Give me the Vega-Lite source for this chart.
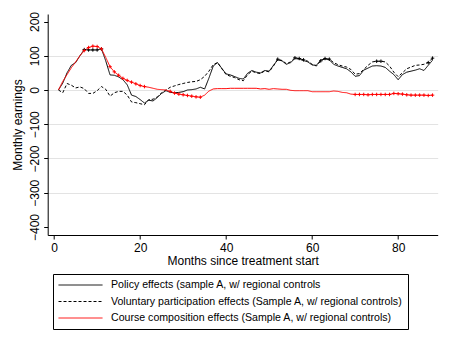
{
  "$schema": "https://vega.github.io/schema/vega-lite/v6.json",
  "width": 390,
  "height": 221,
  "autosize": {"type": "none"},
  "padding": {"left": 47.7, "top": 14, "right": 13.3, "bottom": 111},
  "background": "white",
  "data": {"values": [
    {"m":1,"s":"a","v":0},{"m":2,"s":"a","v":20},{"m":3,"s":"a","v":50},{"m":4,"s":"a","v":72},{"m":5,"s":"a","v":80},{"m":6,"s":"a","v":100},{"m":7,"s":"a","v":118,"k":1},{"m":8,"s":"a","v":117,"k":1},{"m":9,"s":"a","v":117,"k":1},{"m":10,"s":"a","v":117,"k":1},
    {"m":11,"s":"a","v":120,"k":1},{"m":12,"s":"a","v":85},{"m":13,"s":"a","v":44},{"m":14,"s":"a","v":43},{"m":15,"s":"a","v":38},{"m":16,"s":"a","v":30},{"m":17,"s":"a","v":15},{"m":18,"s":"a","v":-15},{"m":19,"s":"a","v":-19},{"m":20,"s":"a","v":-28},
    {"m":21,"s":"a","v":-38},{"m":22,"s":"a","v":-30},{"m":23,"s":"a","v":-32},{"m":24,"s":"a","v":-22},{"m":25,"s":"a","v":-10},{"m":26,"s":"a","v":-2},{"m":27,"s":"a","v":-7},{"m":28,"s":"a","v":-8},{"m":29,"s":"a","v":-7},{"m":30,"s":"a","v":-5},
    {"m":31,"s":"a","v":0},{"m":32,"s":"a","v":1},{"m":33,"s":"a","v":3},{"m":34,"s":"a","v":8},{"m":35,"s":"a","v":3},{"m":36,"s":"a","v":35},{"m":37,"s":"a","v":70},{"m":38,"s":"a","v":80},{"m":39,"s":"a","v":63},{"m":40,"s":"a","v":47},
    {"m":41,"s":"a","v":44},{"m":42,"s":"a","v":39},{"m":43,"s":"a","v":34},{"m":44,"s":"a","v":32},{"m":45,"s":"a","v":49},{"m":46,"s":"a","v":57},{"m":47,"s":"a","v":52},{"m":48,"s":"a","v":50},{"m":49,"s":"a","v":57},{"m":50,"s":"a","v":55},
    {"m":51,"s":"a","v":72},{"m":52,"s":"a","v":88},{"m":53,"s":"a","v":85},{"m":54,"s":"a","v":75},{"m":55,"s":"a","v":80},{"m":56,"s":"a","v":92},{"m":57,"s":"a","v":90},{"m":58,"s":"a","v":86},{"m":59,"s":"a","v":82},{"m":60,"s":"a","v":73},
    {"m":61,"s":"a","v":72},{"m":62,"s":"a","v":88},{"m":63,"s":"a","v":90},{"m":64,"s":"a","v":88},{"m":65,"s":"a","v":75},{"m":66,"s":"a","v":70},{"m":67,"s":"a","v":66},{"m":68,"s":"a","v":62},{"m":69,"s":"a","v":53},{"m":70,"s":"a","v":40},
    {"m":71,"s":"a","v":42},{"m":72,"s":"a","v":58},{"m":73,"s":"a","v":64},{"m":74,"s":"a","v":70},{"m":75,"s":"a","v":71},{"m":76,"s":"a","v":70},{"m":77,"s":"a","v":66},{"m":78,"s":"a","v":55},{"m":79,"s":"a","v":45},{"m":80,"s":"a","v":30},
    {"m":81,"s":"a","v":45},{"m":82,"s":"a","v":52},{"m":83,"s":"a","v":55},{"m":84,"s":"a","v":58},{"m":85,"s":"a","v":62},{"m":86,"s":"a","v":57},{"m":87,"s":"a","v":72},{"m":88,"s":"a","v":87},

    {"m":1,"s":"b","v":0},{"m":2,"s":"b","v":-8},{"m":3,"s":"b","v":19},{"m":4,"s":"b","v":14},{"m":5,"s":"b","v":6},{"m":6,"s":"b","v":9},{"m":7,"s":"b","v":4},{"m":8,"s":"b","v":-10},{"m":9,"s":"b","v":-10},{"m":10,"s":"b","v":-2},
    {"m":11,"s":"b","v":10},{"m":12,"s":"b","v":2},{"m":13,"s":"b","v":-18},{"m":14,"s":"b","v":-8},{"m":15,"s":"b","v":-4},{"m":16,"s":"b","v":-4},{"m":17,"s":"b","v":-15},{"m":18,"s":"b","v":-35},{"m":19,"s":"b","v":-37},{"m":20,"s":"b","v":-40},
    {"m":21,"s":"b","v":-43},{"m":22,"s":"b","v":-28},{"m":23,"s":"b","v":-27},{"m":24,"s":"b","v":-20},{"m":25,"s":"b","v":-8},{"m":26,"s":"b","v":0},{"m":27,"s":"b","v":8},{"m":28,"s":"b","v":12},{"m":29,"s":"b","v":16},{"m":30,"s":"b","v":19},
    {"m":31,"s":"b","v":22},{"m":32,"s":"b","v":24},{"m":33,"s":"b","v":25},{"m":34,"s":"b","v":30},{"m":35,"s":"b","v":40},{"m":36,"s":"b","v":55},{"m":37,"s":"b","v":74},{"m":38,"s":"b","v":80},{"m":39,"s":"b","v":62},{"m":40,"s":"b","v":45},
    {"m":41,"s":"b","v":40},{"m":42,"s":"b","v":36},{"m":43,"s":"b","v":30},{"m":44,"s":"b","v":27},{"m":45,"s":"b","v":45},{"m":46,"s":"b","v":55},{"m":47,"s":"b","v":50},{"m":48,"s":"b","v":48},{"m":49,"s":"b","v":56},{"m":50,"s":"b","v":53},
    {"m":51,"s":"b","v":70},{"m":52,"s":"b","v":90,"k":1},{"m":53,"s":"b","v":86},{"m":54,"s":"b","v":77},{"m":55,"s":"b","v":82},{"m":56,"s":"b","v":94,"k":1},{"m":57,"s":"b","v":92,"k":1},{"m":58,"s":"b","v":88,"k":1},{"m":59,"s":"b","v":84},{"m":60,"s":"b","v":75},
    {"m":61,"s":"b","v":70},{"m":62,"s":"b","v":85,"k":1},{"m":63,"s":"b","v":92,"k":1},{"m":64,"s":"b","v":90,"k":1},{"m":65,"s":"b","v":80},{"m":66,"s":"b","v":74},{"m":67,"s":"b","v":70},{"m":68,"s":"b","v":67},{"m":69,"s":"b","v":60},{"m":70,"s":"b","v":46},
    {"m":71,"s":"b","v":48},{"m":72,"s":"b","v":60},{"m":73,"s":"b","v":72},{"m":74,"s":"b","v":82},{"m":75,"s":"b","v":84,"k":1},{"m":76,"s":"b","v":84,"k":1},{"m":77,"s":"b","v":82},{"m":78,"s":"b","v":70},{"m":79,"s":"b","v":52},{"m":80,"s":"b","v":39},
    {"m":81,"s":"b","v":50},{"m":82,"s":"b","v":62},{"m":83,"s":"b","v":67},{"m":84,"s":"b","v":72},{"m":85,"s":"b","v":73},{"m":86,"s":"b","v":75},{"m":87,"s":"b","v":80,"k":1},{"m":88,"s":"b","v":93,"k":1},

    {"m":1,"s":"c","v":0},{"m":2,"s":"c","v":25},{"m":3,"s":"c","v":45},{"m":4,"s":"c","v":65},{"m":5,"s":"c","v":82},{"m":6,"s":"c","v":100},{"m":7,"s":"c","v":115,"k":1},{"m":8,"s":"c","v":124,"k":1},{"m":9,"s":"c","v":128,"k":1},{"m":10,"s":"c","v":127,"k":1},
    {"m":11,"s":"c","v":120,"k":1},{"m":12,"s":"c","v":95},{"m":13,"s":"c","v":68,"k":1},{"m":14,"s":"c","v":53,"k":1},{"m":15,"s":"c","v":43,"k":1},{"m":16,"s":"c","v":34,"k":1},{"m":17,"s":"c","v":28,"k":1},{"m":18,"s":"c","v":23,"k":1},{"m":19,"s":"c","v":18,"k":1},{"m":20,"s":"c","v":13,"k":1},
    {"m":21,"s":"c","v":10,"k":1},{"m":22,"s":"c","v":8},{"m":23,"s":"c","v":5},{"m":24,"s":"c","v":2},{"m":25,"s":"c","v":1},{"m":26,"s":"c","v":0},{"m":27,"s":"c","v":-4,"k":1},{"m":28,"s":"c","v":-9,"k":1},{"m":29,"s":"c","v":-12,"k":1},{"m":30,"s":"c","v":-14,"k":1},
    {"m":31,"s":"c","v":-16,"k":1},{"m":32,"s":"c","v":-18,"k":1},{"m":33,"s":"c","v":-20,"k":1},{"m":34,"s":"c","v":-21,"k":1},{"m":35,"s":"c","v":-15},{"m":36,"s":"c","v":-3},{"m":37,"s":"c","v":3},{"m":38,"s":"c","v":4},{"m":39,"s":"c","v":4},{"m":40,"s":"c","v":4},
    {"m":41,"s":"c","v":5},{"m":42,"s":"c","v":5},{"m":43,"s":"c","v":5},{"m":44,"s":"c","v":5},{"m":45,"s":"c","v":5},{"m":46,"s":"c","v":5},{"m":47,"s":"c","v":5},{"m":48,"s":"c","v":3},{"m":49,"s":"c","v":4},{"m":50,"s":"c","v":2},
    {"m":51,"s":"c","v":4},{"m":52,"s":"c","v":3},{"m":53,"s":"c","v":2},{"m":54,"s":"c","v":2},{"m":55,"s":"c","v":-1},{"m":56,"s":"c","v":-2},{"m":57,"s":"c","v":-2},{"m":58,"s":"c","v":-2},{"m":59,"s":"c","v":-2},{"m":60,"s":"c","v":-5},
    {"m":61,"s":"c","v":-5},{"m":62,"s":"c","v":-5},{"m":63,"s":"c","v":-5},{"m":64,"s":"c","v":-5},{"m":65,"s":"c","v":-3},{"m":66,"s":"c","v":-4},{"m":67,"s":"c","v":-7},{"m":68,"s":"c","v":-8},{"m":69,"s":"c","v":-12},{"m":70,"s":"c","v":-13,"k":1},
    {"m":71,"s":"c","v":-13,"k":1},{"m":72,"s":"c","v":-13,"k":1},{"m":73,"s":"c","v":-14,"k":1},{"m":74,"s":"c","v":-13,"k":1},{"m":75,"s":"c","v":-13,"k":1},{"m":76,"s":"c","v":-13,"k":1},{"m":77,"s":"c","v":-13,"k":1},{"m":78,"s":"c","v":-13,"k":1},{"m":79,"s":"c","v":-10,"k":1},{"m":80,"s":"c","v":-11,"k":1},
    {"m":81,"s":"c","v":-12,"k":1},{"m":82,"s":"c","v":-14,"k":1},{"m":83,"s":"c","v":-15,"k":1},{"m":84,"s":"c","v":-15,"k":1},{"m":85,"s":"c","v":-15,"k":1},{"m":86,"s":"c","v":-15,"k":1},{"m":87,"s":"c","v":-16,"k":1},{"m":88,"s":"c","v":-15,"k":1}
  ]},
  "encoding": {
    "x": {"field": "m", "type": "quantitative",
          "scale": {"domain": [-1.5, 89.2], "nice": false, "zero": false},
          "axis": {"title": "Months since treatment start", "values": [0, 20, 40, 60, 80], "grid": false, "labelPadding": 3, "titlePadding": 2, "labelAngle": 0, "labelOverlap": false}},
    "y": {"field": "v", "type": "quantitative",
          "scale": {"domain": [-423.4, 221.9], "nice": false, "zero": false},
          "axis": {"title": "Monthly earnings", "values": [-400, -300, -200, -100, 0, 100, 200],
                   "labelAngle": 270, "labelAlign": "center", "labelBaseline": "alphabetic", "labelPadding": 5, "titlePadding": 4,
                   "labelOverlap": false, "labelBound": false,
                   "grid": true,
                   "gridColor": {"condition": {"test": "datum.value == 200 || datum.value == -400", "value": "transparent"}, "value": "#e3e3e3"}}}
  },
  "layer": [
    {
      "mark": {"type": "line", "strokeWidth": 1, "clip": true},
      "encoding": {
        "color": {"field": "s", "type": "nominal",
                  "scale": {"domain": ["a", "b", "c"], "range": ["black", "black", "red"]},
                  "legend": {"title": null, "orient": "none", "legendX": 5.3, "legendY": 260, "direction": "vertical",
                             "strokeColor": "black", "fillColor": "white", "padding": 5,
                             "symbolType": "stroke", "symbolSize": 1936, "symbolStrokeWidth": 1, "clipHeight": 12,
                             "rowPadding": 4.5, "labelOffset": 8, "labelFontSize": 10.6, "labelFont": "Liberation Sans",
                             "labelColor": "black", "labelLimit": 420,
                             "labelExpr": "datum.label == 'a' ? 'Policy effects (sample A, w/ regional controls' : datum.label == 'b' ? 'Voluntary participation effects (Sample A, w/ regional controls)' : 'Course composition effects (Sample A, w/ regional controls)'"}},
        "strokeDash": {"field": "s", "type": "nominal",
                  "scale": {"domain": ["a", "b", "c"], "range": [[1, 0], [3, 2], [1, 0]]},
                  "legend": {"title": null, "orient": "none", "legendX": 5.3, "legendY": 260, "direction": "vertical",
                             "strokeColor": "black", "fillColor": "white", "padding": 5,
                             "symbolType": "stroke", "symbolSize": 1936, "symbolStrokeWidth": 1, "clipHeight": 12,
                             "rowPadding": 4.5, "labelOffset": 8, "labelFontSize": 10.6, "labelFont": "Liberation Sans",
                             "labelColor": "black", "labelLimit": 420,
                             "labelExpr": "datum.label == 'a' ? 'Policy effects (sample A, w/ regional controls' : datum.label == 'b' ? 'Voluntary participation effects (Sample A, w/ regional controls)' : 'Course composition effects (Sample A, w/ regional controls)'"}}
      }
    },
    {
      "transform": [{"filter": "datum.k == 1"}],
      "mark": {"type": "point", "shape": "M-1,0H1M0,-1V1", "filled": false, "size": 12, "strokeWidth": 1, "opacity": 1},
      "encoding": {
        "stroke": {"condition": {"test": "datum.s == 'c'", "value": "red"}, "value": "black"}
      }
    }
  ],
  "config": {
    "font": "Liberation Sans",
    "view": {"stroke": null},
    "axis": {"domainColor": "black", "tickColor": "black", "labelColor": "black", "titleColor": "black",
             "labelFont": "Liberation Sans", "titleFont": "Liberation Sans", "labelFontSize": 12, "titleFontSize": 12,
             "titleFontWeight": "normal", "tickSize": 4, "domainWidth": 1, "tickWidth": 1}
  }
}
